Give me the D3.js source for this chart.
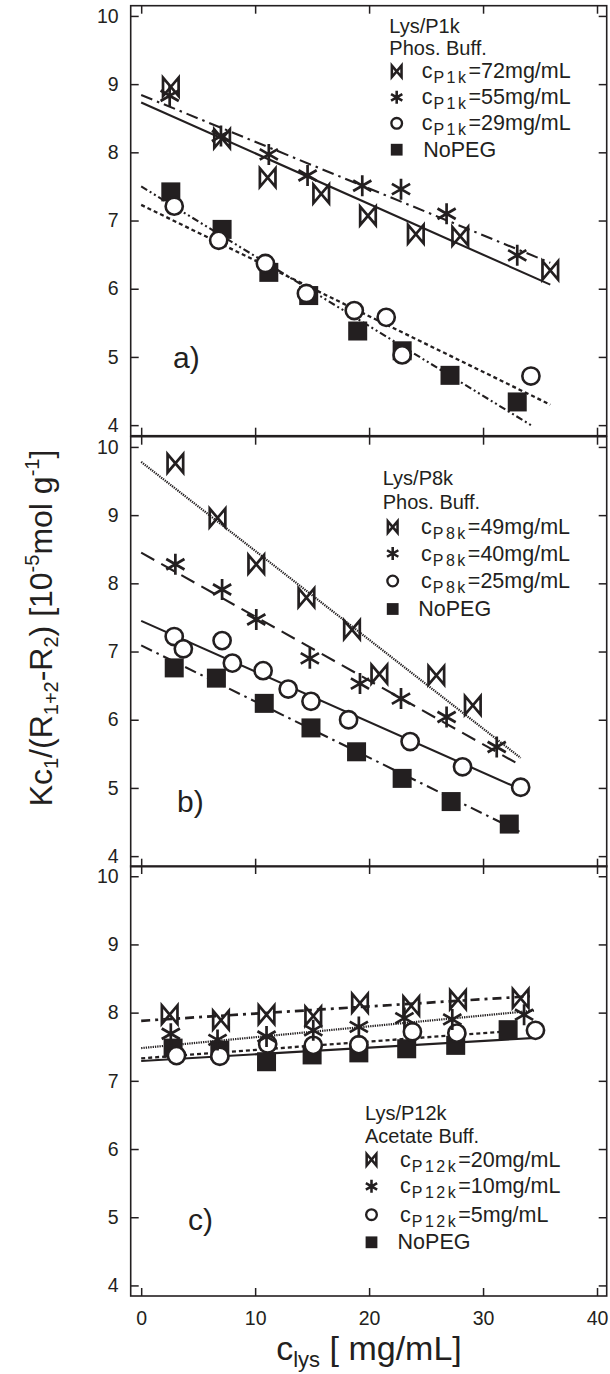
<!DOCTYPE html>
<html><head><meta charset="utf-8">
<script src="https://cdn.jsdelivr.net/npm/d3@7"></script>
<style>
body{margin:0;background:#fff}
svg{display:block}
text{font-family:"Liberation Sans",Arial,Helvetica,sans-serif;fill:#231f20}
</style>
</head><body>
<svg id="chart" width="610" height="1374"></svg>
<script>
// ---------------- DATA ----------------
const xTicks = [0, 10, 20, 30, 40];
const yTicks = [4, 5, 6, 7, 8, 9, 10];

// Panel a) Lys/P1k, Phos. Buff.
const aLegendHead = ["Lys/P1k", "Phos. Buff."];
const aLegendSub = "P1k";
const aLegendConc = ["=72mg/mL", "=55mg/mL", "=29mg/mL"];
const aX72 = [2.6, 7.1, 11.1, 15.8, 19.9, 24.1, 28.0, 35.9];
const aY72 = [8.96, 8.20, 7.63, 7.39, 7.07, 6.80, 6.77, 6.27];
const aX55 = [2.5, 7.0, 11.2, 14.6, 19.4, 22.8, 26.8, 33.0];
const aY55 = [8.83, 8.24, 7.97, 7.66, 7.51, 7.46, 7.10, 6.49];
const aX29 = [2.9, 6.8, 10.9, 14.5, 18.7, 21.5, 22.9, 34.2];
const aY29 = [7.21, 6.71, 6.37, 5.93, 5.68, 5.58, 5.03, 4.72];
const aX0 = [2.6, 7.1, 11.2, 14.7, 19.0, 22.9, 27.1, 33.0];
const aY0 = [7.42, 6.87, 6.24, 5.90, 5.38, 5.09, 4.73, 4.34];
const aFit72 = [[0, 8.73], [35.9, 6.06]];
const aFit55 = [[0, 8.84], [35.9, 6.38]];
const aFit29 = [[0, 7.50], [34.2, 4.00]];
const aFit0 = [[0, 7.23], [35.9, 4.30]];

// Panel b) Lys/P8k, Phos. Buff.
const bLegendHead = ["Lys/P8k", "Phos. Buff."];
const bLegendSub = "P8k";
const bLegendConc = ["=49mg/mL", "=40mg/mL", "=25mg/mL"];
const bX49 = [3.0, 6.7, 10.1, 14.5, 18.5, 20.9, 25.9, 29.1];
const bY49 = [9.76, 8.96, 8.28, 7.79, 7.32, 6.67, 6.65, 6.21];
const bX40 = [3.0, 7.1, 10.1, 14.8, 19.2, 22.8, 26.8, 31.2];
const bY40 = [8.28, 7.91, 7.47, 6.90, 6.53, 6.31, 6.04, 5.60];
const bX25 = [2.9, 3.7, 7.1, 8.0, 10.7, 12.9, 14.9, 18.2, 23.6, 28.2, 33.3];
const bY25 = [7.22, 7.04, 7.16, 6.83, 6.72, 6.45, 6.27, 6.00, 5.68, 5.31, 5.01];
const bX0 = [2.9, 6.6, 10.8, 14.9, 18.9, 22.9, 27.2, 32.3];
const bY0 = [6.76, 6.61, 6.24, 5.88, 5.53, 5.14, 4.80, 4.47];
const bFit49 = [[0, 9.78], [33.3, 5.44]];
const bFit40 = [[0, 8.45], [33.3, 5.33]];
const bFit25 = [[0, 7.45], [33.3, 4.98]];
const bFit0 = [[0, 7.09], [33.2, 4.36]];

// Panel c) Lys/P12k, Acetate Buff.
const cLegendHead = ["Lys/P12k", "Acetate Buff."];
const cLegendSub = "P12k";
const cLegendConc = ["=20mg/mL", "=10mg/mL", "=5mg/mL"];
const cX20 = [2.5, 7.0, 11.0, 15.1, 19.2, 23.7, 27.8, 33.3];
const cY20 = [7.97, 7.89, 7.97, 7.95, 8.14, 8.10, 8.19, 8.21];
const cX10 = [2.6, 6.7, 11.0, 15.1, 19.1, 23.1, 27.3, 33.6];
const cY10 = [7.69, 7.60, 7.65, 7.74, 7.79, 7.92, 7.90, 7.97];
const cX5 = [3.1, 6.9, 11.1, 15.1, 19.1, 23.8, 27.7, 34.6];
const cY5 = [7.37, 7.36, 7.54, 7.52, 7.53, 7.72, 7.70, 7.74];
const cX0 = [2.8, 6.9, 11.0, 15.0, 19.1, 23.3, 27.6, 32.2];
const cY0 = [7.48, 7.45, 7.28, 7.38, 7.41, 7.47, 7.52, 7.75];
const cFit20 = [[0, 7.88], [34.1, 8.24]];
const cFit10 = [[0, 7.48], [34.5, 8.03]];
const cFit5 = [[0, 7.33], [32.5, 7.73]];
const cFit0 = [[0, 7.29], [34.6, 7.63]];

const panelLetters = ["a)", "b)", "c)"];
const noPegLabel = "NoPEG";

// ---------------- LAYOUT ----------------
const ink = "#231f20";
const svg = d3.select("#chart");
const x = d3.scaleLinear().domain([-0.92, 40.85]).range([130.7, 606.7]);
const PH = 430;

const zip = (xs, ys) => xs.map((v, i) => [v, ys[i]]);

const styles = {
  solid: {dash: null, w: 2.1},
  dashdot: {dash: "12,5,2.5,5", w: 2.1},
  dashdotdot: {dash: "7,3,2,3,2,3", w: 2.1},
  shortdash: {dash: "4,3", w: 2.3},
  longdash: {dash: "15,8", w: 2.1},
  dotted: {dash: "1.3,1", w: 2.2},
  dashdotBold: {dash: "9,5,3,5", w: 2.7}
};

const panels = [
  {top: 5.7, letter: panelLetters[0], letterPos: [173, 368],
   head: aLegendHead, sub: aLegendSub, conc: aLegendConc,
   leg: {hx: 389.3, hy: [32.5, 55], sx: 396.7, tx: 421.7, nx: 423.3, ry: [78.3, 104.3, 130.3, 156.7]},
   series: [
     {kind: "square", pts: zip(aX0, aY0), fit: aFit0, style: "shortdash"},
     {kind: "circle", pts: zip(aX29, aY29), fit: aFit29, style: "dashdotdot"},
     {kind: "bowtie", pts: zip(aX72, aY72), fit: aFit72, style: "solid"},
     {kind: "aster", pts: zip(aX55, aY55), fit: aFit55, style: "dashdot"}
   ]},
  {top: 436.7, letter: panelLetters[1], letterPos: [177, 812],
   head: bLegendHead, sub: bLegendSub, conc: bLegendConc,
   leg: {hx: 382.7, hy: [485, 508.5], sx: 392.7, tx: 421, nx: 418.3, ry: [534, 560.5, 588, 616]},
   series: [
     {kind: "square", pts: zip(bX0, bY0), fit: bFit0, style: "dashdot"},
     {kind: "circle", pts: zip(bX25, bY25), fit: bFit25, style: "solid"},
     {kind: "bowtie", pts: zip(bX49, bY49), fit: bFit49, style: "dotted"},
     {kind: "aster", pts: zip(bX40, bY40), fit: bFit40, style: "longdash"}
   ]},
  {top: 866, letter: panelLetters[2], letterPos: [188, 1230],
   head: cLegendHead, sub: cLegendSub, conc: cLegendConc,
   leg: {hx: 365, hy: [1119.5, 1143.3], sx: 371.5, tx: 400, nx: 397.6, ry: [1166.7, 1193.3, 1221.7, 1249.3]},
   series: [
     {kind: "square", pts: zip(cX0, cY0), fit: cFit0, style: "solid"},
     {kind: "circle", pts: zip(cX5, cY5), fit: cFit5, style: "shortdash"},
     {kind: "aster", pts: zip(cX10, cY10), fit: cFit10, style: "dotted"},
     {kind: "bowtie", pts: zip(cX20, cY20), fit: cFit20, style: "dashdotBold"}
   ]}
];

function drawMarker(g, kind, cx, cy, s) {
  if (kind === "square") {
    const h = 9.5 * s;
    g.append("rect").attr("x", cx - h).attr("y", cy - h).attr("width", 2 * h).attr("height", 2 * h)
      .attr("fill", ink);
  } else if (kind === "circle") {
    g.append("circle").attr("cx", cx).attr("cy", cy).attr("r", 8.6 * s)
      .attr("fill", "#fff").attr("stroke", ink).attr("stroke-width", 2.6 * Math.max(s, 0.9));
  } else if (kind === "bowtie") {
    const w = 7.8 * s, h = 9.2 * s;
    g.append("path").attr("d", `M${cx - w},${cy - h}L${cx + w},${cy + h}L${cx + w},${cy - h}L${cx - w},${cy + h}Z`)
      .attr("fill", "none").attr("stroke", ink).attr("stroke-width", 2.7 * Math.max(s, 0.95)).attr("stroke-linejoin", "miter");
  } else if (kind === "aster") {
    const r = 10.5 * s;
    let d = "";
    [90, 30, -30].forEach(a => {
      const rad = a * Math.PI / 180;
      const dx = r * Math.cos(rad), dy = r * Math.sin(rad);
      d += `M${cx - dx},${cy - dy}L${cx + dx},${cy + dy}`;
    });
    g.append("path").attr("d", d).attr("fill", "none").attr("stroke", ink).attr("stroke-width", 2.7 * Math.max(s, 0.95));
  }
}

panels.forEach((p, pi) => {
  const y = d3.scaleLinear().domain([3.845, 10.15]).range([p.top + PH, p.top]);
  const g = svg.append("g");
  const [x0, x1] = x.range();

  const tickStyle = sel => {
    sel.select(".domain").remove();
    sel.selectAll(".tick line").attr("stroke", ink).attr("stroke-width", 1.5);
    sel.selectAll(".tick text").attr("fill", ink).style("font-size", "19.5px")
      .style("font-family", '"Liberation Sans",Arial,sans-serif');
  };
  g.append("g").attr("transform", `translate(${x0},0)`)
    .call(d3.axisLeft(y).tickValues(yTicks).tickSizeInner(-8).tickSizeOuter(0).tickPadding(12).tickFormat(d3.format("d")))
    .call(tickStyle);
  g.append("g").attr("transform", `translate(${x1},0)`)
    .call(d3.axisRight(y).tickValues(yTicks).tickSizeInner(-8).tickSizeOuter(0).tickFormat(""))
    .call(tickStyle);
  g.append("g").attr("transform", `translate(0,${p.top})`)
    .call(d3.axisTop(x).tickValues(xTicks).tickSizeInner(-8).tickSizeOuter(0).tickFormat(""))
    .call(tickStyle);
  g.append("g").attr("transform", `translate(0,${p.top + PH})`)
    .call(d3.axisBottom(x).tickValues(xTicks).tickSizeInner(-8).tickSizeOuter(0).tickPadding(15)
      .tickFormat(pi === 2 ? d3.format("d") : ""))
    .call(tickStyle);

  g.append("rect").attr("x", x0).attr("y", p.top).attr("width", x1 - x0).attr("height", PH)
    .attr("fill", "none").attr("stroke", ink).attr("stroke-width", 1.6);

  const line = d3.line().x(d => x(d[0])).y(d => y(d[1]));
  p.series.forEach(s => {
    const st = styles[s.style];
    g.append("path").attr("d", line(s.fit)).attr("fill", "none").attr("stroke", ink)
      .attr("stroke-width", st.w).attr("stroke-dasharray", st.dash);
  });

  p.series.forEach(s => {
    const mg = g.append("g");
    s.pts.forEach(d => drawMarker(mg, s.kind, x(d[0]), y(d[1]), 1));
  });

  g.append("text").attr("x", p.letterPos[0]).attr("y", p.letterPos[1]).style("font-size", "30px").text(p.letter);

  const L = p.leg;
  p.head.forEach((t, i) => {
    g.append("text").attr("x", L.hx).attr("y", L.hy[i]).style("font-size", "20px").text(t);
  });
  const legKinds = ["bowtie", "aster", "circle", "square"];
  legKinds.forEach((k, i) => {
    const by = L.ry[i];
    drawMarker(g, k, L.sx, by - 7, 0.62);
    if (i < 3) {
      const t = g.append("text").attr("x", L.tx).attr("y", by).style("font-size", "21.5px");
      t.append("tspan").text("c");
      t.append("tspan").attr("dx", 1).attr("dy", 5).style("font-size", "16px").style("letter-spacing", "2.5px").text(p.sub);
      t.append("tspan").attr("dy", -5).text(p.conc[i]);
    } else {
      g.append("text").attr("x", L.nx).attr("y", by).style("font-size", "21.5px").text(noPegLabel);
    }
  });
});

// X axis title
const xt = svg.append("text").attr("x", 369).attr("y", 1360).attr("text-anchor", "middle").style("font-size", "34px");
xt.append("tspan").text("c");
xt.append("tspan").attr("dy", 7).style("font-size", "22px").text("lys");
xt.append("tspan").attr("dy", -7).text(" [ mg/mL]");

// Y axis title
const yt = svg.append("text").attr("transform", "translate(52,628) rotate(-90)").attr("text-anchor", "middle")
  .style("font-size", "32px");
yt.append("tspan").text("Kc");
yt.append("tspan").attr("dy", 6).style("font-size", "20px").text("1");
yt.append("tspan").attr("dy", -6).text("/(R");
yt.append("tspan").attr("dy", 6).style("font-size", "20px").text("1+2");
yt.append("tspan").attr("dy", -6).text("-R");
yt.append("tspan").attr("dy", 6).style("font-size", "20px").text("2");
yt.append("tspan").attr("dy", -6).text(") [10");
yt.append("tspan").attr("dy", -13).style("font-size", "20px").text("-5");
yt.append("tspan").attr("dy", 13).text("mol g");
yt.append("tspan").attr("dy", -13).style("font-size", "20px").text("-1");
yt.append("tspan").attr("dy", 13).text("]");
</script>
</body></html>
